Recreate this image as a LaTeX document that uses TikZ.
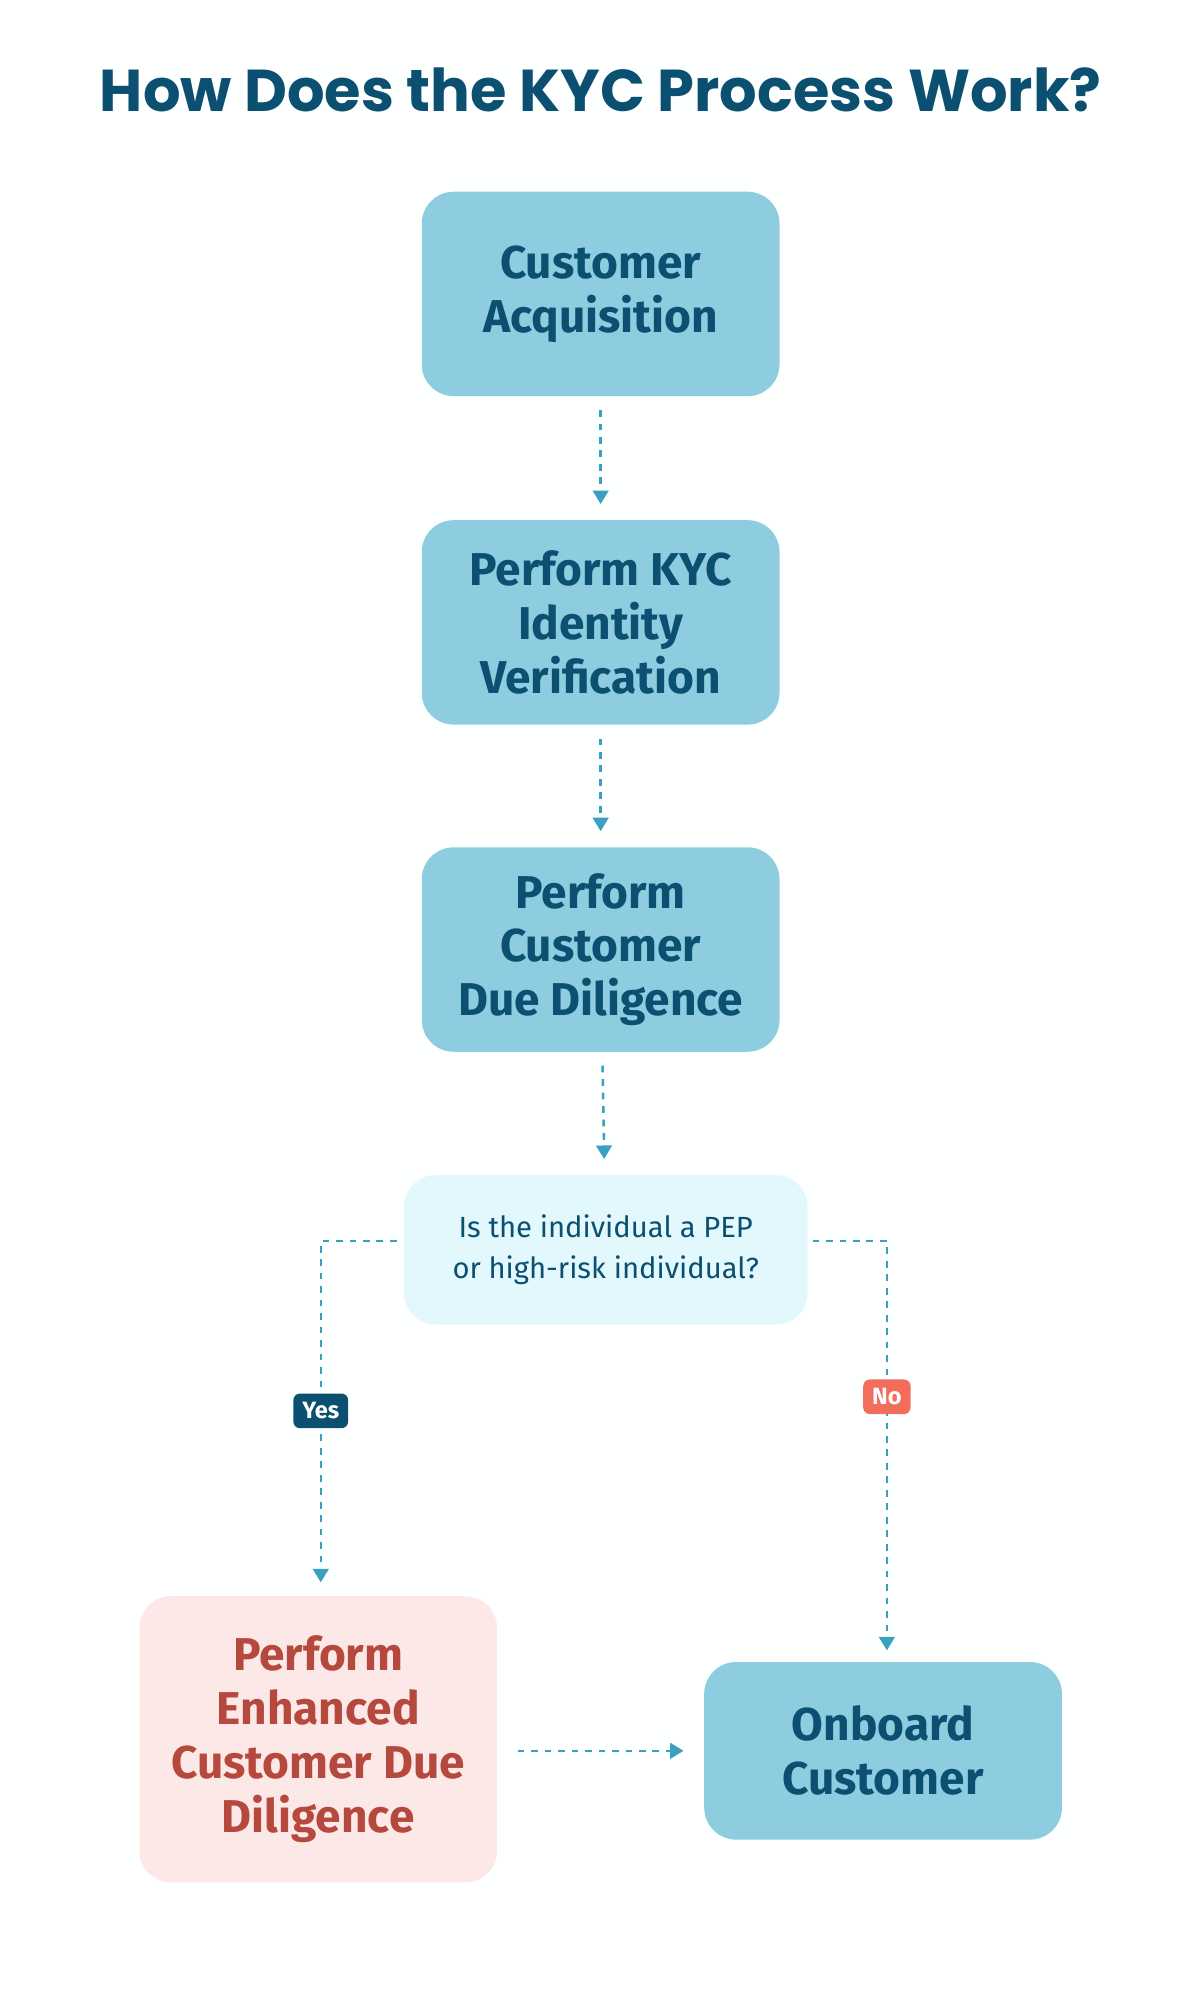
\documentclass[tikz,border=0pt]{standalone}
\usepackage{fontspec}
\setmainfont{Fira Sans}
\newfontfamily\titlefont{Poppins}
\usetikzlibrary{positioning,arrows.meta}
\definecolor{kycnavy}{HTML}{0B4F71}
\definecolor{kycblue}{HTML}{8ECDE0}
\definecolor{kycpale}{HTML}{E3F8FD}
\definecolor{kycpink}{HTML}{FDE8E8}
\definecolor{kycred}{HTML}{B5493E}
\definecolor{kycline}{HTML}{3AA0BF}
\definecolor{kycorange}{HTML}{F26D5B}
\tikzset{
  stage/.style={draw=none, fill=kycblue, rounded corners=0.5cm, minimum width=5.6cm,
    minimum height=3.2cm, align=center, text=kycnavy, font=\fontsize{20.5}{24}\selectfont\bfseries},
  flow/.style={draw=kycline, line width=1.1pt, dashed, -{Triangle[length=6pt,width=7pt]}},
  tag/.style={rounded corners=3pt, text=white, inner sep=4pt, font=\fontsize{10.5}{12}\selectfont\bfseries}
}
\begin{document}
\begin{tikzpicture}[x=0.02cm, y=-0.02cm]
        % background
        \fill[white!97!kycpale] (0,0) rectangle (940,1565);
        % title
        \node[text=kycnavy, font=\titlefont\fontsize{26.3}{32}\selectfont\bfseries] (title) at (470,70) {How Does the KYC Process Work?};
        % NODES
        \node[stage] (acq) at (470,230) {Customer\\Acquisition};
        \node[stage] (kyc) at (470,487) {Perform KYC\\Identity\\Verification};
        \node[stage] (cdd) at (470,743) {Perform\\Customer\\Due Diligence};
        \node[stage, fill=kycpale, minimum width=6.32cm, minimum height=2.34cm,
              font=\fontsize{13}{18}\selectfont] (pep) at (474,978) {Is the individual a PEP\\or high-risk individual?};
        \node[stage, fill=kycpink, text=kycred, minimum height=4.48cm] (edd) at (249,1361) {Perform\\Enhanced\\Customer Due\\Diligence};
        \node[stage, minimum height=2.78cm] (onb) at (691,1370) {Onboard\\Customer};
        % corner points
        \coordinate (yesturn) at (251,971);
        \coordinate (noturn) at (694,971);
        % ARROWS
        \draw[flow, shorten <=6pt, shorten >=7pt] (acq) -- (kyc);
        \draw[flow, shorten <=6pt, shorten >=7pt] (kyc) -- (cdd);
        \draw[flow, shorten <=6pt, shorten >=7pt] (cdd) -- (pep);
        \draw[flow, shorten <=3pt, shorten >=6pt] (pep.west |- yesturn) -- (yesturn) -- (yesturn |- edd.north);
        \draw[flow, shorten <=2pt, shorten >=5pt] (pep.east |- noturn) -- (noturn) -- (noturn |- onb.north);
        \draw[flow, shorten <=9pt, shorten >=9pt] (edd.east |- onb) -- (onb);
        % labels
        \node[tag, fill=kycnavy] (yes) at (251,1104) {Yes};
        \node[tag, fill=kycorange] (no) at (694,1093) {No};
\end{tikzpicture}
\end{document}
